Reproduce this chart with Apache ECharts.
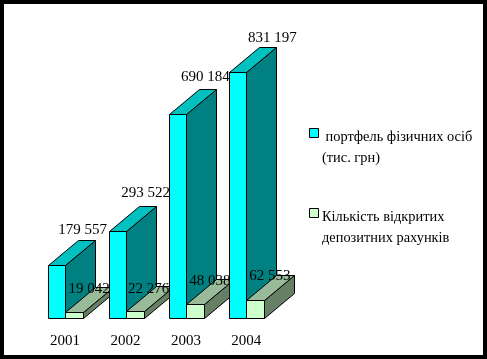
<!DOCTYPE html>
<html><head><meta charset="utf-8">
<style>html,body{margin:0;padding:0;background:#fff}#c{width:487px;height:359px}</style>
<script src="https://cdn.jsdelivr.net/npm/echarts@6/dist/echarts.min.js"></script></head>
<body><div id="c"></div>
<script>
const categories = ['2001','2002','2003','2004'];
const portfolioValues = [179557, 293522, 690184, 831197];
const depositCounts = [19042, 22276, 48038, 62553];
const portfolioLabels = ['179 557','293 522','690 184','831 197'];
const depositLabels = ['19 042','22 276','48 038','62 553'];
const legendTexts = [' портфель фізичних осіб\n(тис. грн)', 'Кількість відкритих\nдепозитних рахунків'];

const FONT = '15px "Liberation Serif"';
const LEGEND_FONT = '14.4px "Liberation Serif"';
const DEPTH_X = 30, DEPTH_Y = 25;
const nudgeA = [[17.5,-34.5],[20,-38.5],[19.5,-37],[26,-34.5]];
const nudgeB = [[24,-23],[23,-22.5],[24,-22.5],[23.5,-23.5]];

function box(side, ratio, palette, labels, nudges, order) {
  return function (params, api) {
    const i = api.value(0);
    const top = api.coord([i, api.value(1)]);
    const base = api.coord([i, 0]);
    const w = api.size([1, 0])[0] * ratio;
    const x0 = Math.round(side < 0 ? top[0] - w : top[0]) + 0.5;
    const x1 = Math.round(side < 0 ? top[0] : top[0] + w) + 0.5;
    const yT = Math.round(top[1]) + 0.5;
    const yB = Math.round(base[1]) + 0.5;
    const z2 = i * 10 + order;
    const st = c => ({ fill: c, stroke: '#000', lineWidth: 1 });
    return { type: 'group', children: [
      { type: 'polygon', z2, shape: { points: [[x1,yB],[x1+DEPTH_X,yB-DEPTH_Y],[x1+DEPTH_X,yT-DEPTH_Y],[x1,yT]] }, style: st(palette.side) },
      { type: 'polygon', z2, shape: { points: [[x0,yT],[x1,yT],[x1+DEPTH_X,yT-DEPTH_Y],[x0+DEPTH_X,yT-DEPTH_Y]] }, style: st(palette.top) },
      { type: 'rect', z2, shape: { x: x0, y: yT, width: x1-x0, height: yB-yT }, style: st(palette.front) },
      { type: 'text', z2: z2 + 1, style: { text: labels[i], x: top[0] + nudges[i][0], y: top[1] + nudges[i][1], font: FONT, fill: '#000', align: 'center', verticalAlign: 'middle' } }
    ]};
  };
}
const paletteA = { front:'#00FFFF', side:'#008080', top:'#00C0C0' };
const paletteB = { front:'#CCFFCC', side:'#668066', top:'#99BB99' };

const chart = echarts.init(document.getElementById('c'), null, { renderer:'canvas' });
chart.setOption({
  animation:false,
  backgroundColor:'#fff',
  grid:{ left:34.9, width:241.6, top:52, height:266 },
  xAxis:{ type:'category', data:categories, axisLine:{show:false}, axisTick:{show:false},
    axisLabel:{ fontFamily:'Liberation Serif', fontSize:15, color:'#000', margin:16 } },
  yAxis:{ type:'value', min:0, max:900000, show:false },
  series:[
    { type:'custom', name:'портфель фізичних осіб (тис. грн)', clip:false, renderItem:box(-1,0.28,paletteA,portfolioLabels,nudgeA,0),
      data:portfolioValues.map((v,i)=>[i,v]), encode:{x:0,y:1} },
    { type:'custom', name:'Кількість відкритих депозитних рахунків', clip:false, renderItem:box(1,0.30,paletteB,depositLabels,nudgeB,5),
      data:depositCounts.map((v,i)=>[i,v]), encode:{x:0,y:1} }
  ],
  graphic:[
    { type:'rect', silent:true, z:100, shape:{x:2,y:2,width:483,height:355}, style:{fill:'none',stroke:'#000',lineWidth:4} },
    { type:'rect', z:100, shape:{x:309.5,y:128.5,width:9,height:9}, style:{fill:paletteA.front,stroke:'#000',lineWidth:1} },
    { type:'rect', z:100, shape:{x:309.5,y:208.5,width:9,height:9}, style:{fill:paletteB.front,stroke:'#000',lineWidth:1} },
    { type:'text', z:100, style:{ x:322, y:126.5, text:legendTexts[0], font:LEGEND_FONT, lineHeight:21, fill:'#000' } },
    { type:'text', z:100, style:{ x:322, y:206.5, text:legendTexts[1], font:LEGEND_FONT, lineHeight:21, fill:'#000' } }
  ]
});
</script></body></html>
